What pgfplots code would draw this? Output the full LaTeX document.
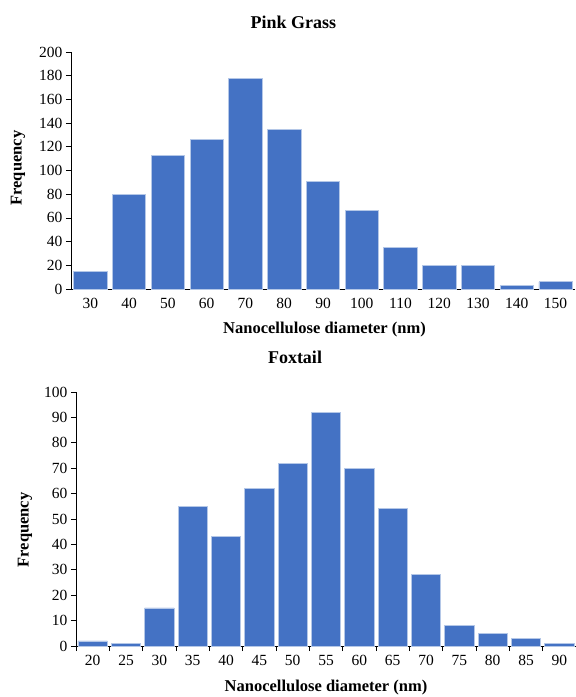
\documentclass[border=0pt]{standalone}
\usepackage{fontspec}
\setmainfont{Liberation Serif}
\usepackage{pgfplots}
\pgfplotsset{compat=1.18}
\definecolor{barblue}{HTML}{4472C4}
\definecolor{baredge}{HTML}{B4C7E7}
\begin{document}
\begin{tikzpicture}[x=1pt,y=1pt]
\useasboundingbox (0,0) rectangle (576,-697);
\pgfplotsset{common/.style={
  scale only axis,
  axis lines*=left,
  axis line style={black, line width=0.8pt},
  ymin=0,
  enlarge x limits=false,
  tick align=outside,
  xtick=data,
  major tick length=5pt,
  minor tick length=5pt,
  tick style={black, line width=0.8pt},
  /pgf/number format/assume math mode=true,
  yticklabel={\pgfmathprintnumber{\tick}},
  ticklabel style={font=\fontsize{15.5}{17}\selectfont},
  title style={font=\bfseries\fontsize{18}{20}\selectfont, anchor=center, yshift=-6pt},
  xlabel style={font=\bfseries\fontsize{16.5}{18}\selectfont, anchor=center},
  ylabel style={font=\bfseries\fontsize{16.5}{18}\selectfont, anchor=center, rotate=0},
  ybar,
  bar shift=0pt,
}}
% Top: Pink Grass
\begin{axis}[common,
  at={(71pt,-289pt)}, anchor=south west,
  width=504pt, height=237pt,
  xmin=-0.5, xmax=12.5,
  ymax=200, ytick={0,20,...,200},
  xticklabels={30,40,50,60,70,80,90,100,110,120,130,140,150},
  major x tick style={draw=none},
  xticklabel style={yshift=-1pt},
  bar width=0.86,
  title={Pink Grass},
  title style={at={(axis description cs:0.441,1.1266)}},
  xlabel={Nanocellulose diameter (nm)},
  xlabel style={at={(axis description cs:0.503,-0.173)}},
  ylabel={Frequency},
  ylabel style={at={(axis description cs:-0.105,0.51)}},
]
\addplot[fill=barblue, draw=baredge, line width=0.8pt] coordinates {
(0,15) (1,80) (2,113) (3,126) (4,178) (5,135) (6,91) (7,66) (8,35) (9,20) (10,20) (11,3) (12,6)};
\end{axis}
% Bottom: Foxtail
\begin{axis}[common,
  at={(76pt,-646pt)}, anchor=south west,
  width=500pt, height=254pt,
  xmin=-0.5, xmax=14.5,
  ymax=100, ytick={0,10,...,100},
  xticklabels={20,25,30,35,40,45,50,55,60,65,70,75,80,85,90},
  major x tick style={draw=none},
  minor xtick={-0.5,0.5,...,14.5},
  xticklabel style={yshift=-1pt},
  bar width=0.88,
  title={Foxtail},
  title style={at={(axis description cs:0.438,1.138)}},
  xlabel={Nanocellulose diameter (nm)},
  xlabel style={at={(axis description cs:0.5,-0.165)}},
  ylabel={Frequency},
  ylabel style={at={(axis description cs:-0.102,0.457)}},
]
\addplot[fill=barblue, draw=baredge, line width=0.8pt] coordinates {
(0,2) (1,1) (2,15) (3,55) (4,43) (5,62) (6,72) (7,92) (8,70) (9,54) (10,28) (11,8) (12,5) (13,3) (14,1)};
\end{axis}
\end{tikzpicture}
\end{document}
